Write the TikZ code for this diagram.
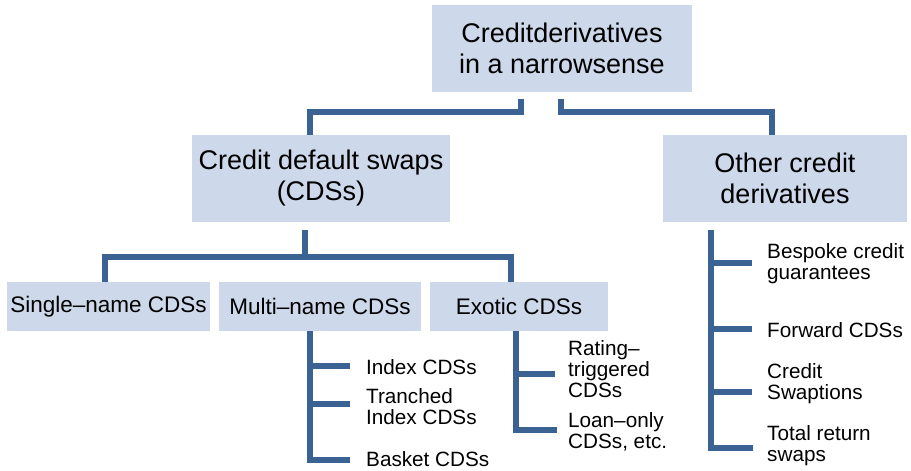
\documentclass[tikz,border=0pt]{standalone}
\usepackage{fontspec}
\setmainfont{Liberation Sans}
\definecolor{boxfill}{RGB}{205,216,234}
\definecolor{linec}{RGB}{58,99,148}
\begin{document}
\begin{tikzpicture}[x=1pt,y=-1pt,
 box/.style={fill=boxfill, draw=none, inner sep=0pt, align=center},
 conn/.style={draw=linec, line width=6pt, line join=miter},
 big/.style={font=\fontsize{27}{31}\selectfont},
 mid/.style={font=\fontsize{22.5}{26}\selectfont},
 lbl/.style={anchor=west, inner sep=0pt, align=left, font=\fontsize{20.7}{21}\selectfont}]
\useasboundingbox (0,0) rectangle (911,471);
% boxes
\node[box,big,minimum width=260pt,minimum height=87pt] (top) at (562,48.5) {Creditderivatives\\in a narrowsense};
\node[box,big,minimum width=258pt,minimum height=87pt] (cds) at (321,178.5) {Credit default swaps\\(CDSs)};
\node[box,big,minimum width=244pt,minimum height=87pt] (other) at (785,178.5) {Other credit\\derivatives};
\node[box,mid,minimum width=203pt,minimum height=49pt] (single) at (108.5,306.5) {Single–name CDSs};
\node[box,mid,minimum width=202pt,minimum height=49pt] (multi) at (320,306.5) {Multi–name CDSs};
\node[box,mid,minimum width=178pt,minimum height=49pt] (exotic) at (519,306.5) {Exotic CDSs};
% labels
\node[lbl] (l1) at (366,367) {Index CDSs};
\node[lbl] (l2) at (366,406.5) {Tranched\\Index CDSs};
\node[lbl] (l3) at (366,459) {Basket CDSs};
\node[lbl] (l4) at (568,369) {Rating–\\triggered\\CDSs};
\node[lbl] (l5) at (568,432) {Loan–only\\CDSs, etc.};
\node[lbl] (l6) at (767,264) {Bespoke credit\\guarantees};
\node[lbl] (l7) at (767,330) {Forward CDSs};
\node[lbl] (l8) at (767,384) {Credit\\Swaptions};
\node[lbl] (l9) at (767,445.5) {Total return\\swaps};
% top connectors
\draw[conn] ([xshift=-41pt,yshift=-7pt]top.south) -- ++(0,13) -| ([xshift=-11.5pt]cds.north);
\draw[conn] ([xshift=-1pt,yshift=-7pt]top.south) -- ++(0,13) -| ([xshift=-13pt]other.north);
% CDS connectors
\draw[conn] ([xshift=-16pt,yshift=-8pt]cds.south) -- ++(0,30);
\draw[conn] ([xshift=-3.5pt]single.north) -- ++(0,-24.5) -| ([xshift=-8pt]exotic.north);
% multi-name branches
\coordinate (mt) at ([xshift=-10pt]multi.south);
\coordinate (m1) at (350,366);
\coordinate (m2) at (350,404);
\coordinate (m3) at (350,460);
\draw[conn] (mt) |- (m3);
\draw[conn] (m1 -| mt) -- (m1);
\draw[conn] (m2 -| mt) -- (m2);
% exotic branches
\coordinate (et) at ([xshift=-3pt]exotic.south);
\coordinate (e1) at (555,373.5);
\coordinate (e2) at (557,430);
\draw[conn] (et) |- (e2);
\draw[conn] (e1 -| et) -- (e1);
% other branches
\coordinate (ot) at ([xshift=-74pt,yshift=-8pt]other.south);
\coordinate (o1) at (752,263);
\coordinate (o2) at (752,328.5);
\coordinate (o3) at (752,391.5);
\coordinate (o4) at (753,448);
\draw[conn] (ot) |- (o4);
\draw[conn] (o1 -| ot) -- (o1);
\draw[conn] (o2 -| ot) -- (o2);
\draw[conn] (o3 -| ot) -- (o3);
\end{tikzpicture}
\end{document}
